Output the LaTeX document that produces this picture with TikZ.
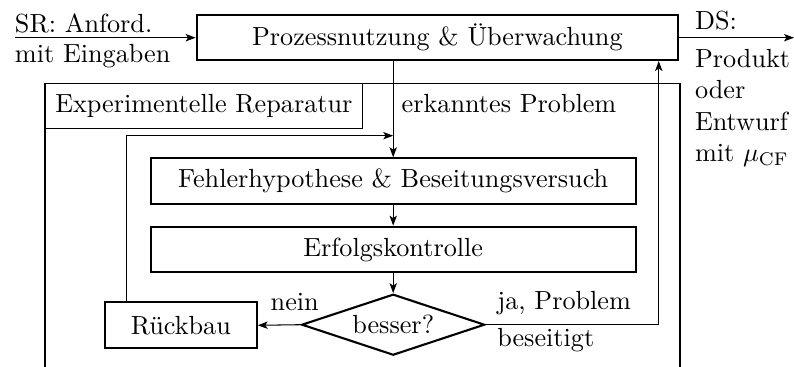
\documentclass[tikz,border=0pt]{standalone}
\usetikzlibrary{shapes.geometric,arrows.meta}
\begin{document}
\def\u{0.3817pt}
\begin{tikzpicture}[x=\u,y=-\u,
  box/.style={draw,thick,rectangle,inner sep=0pt},
  thinbox/.style={draw,rectangle,inner sep=0pt},
  lbl/.style={inner sep=0pt,outer sep=0pt},
  arr/.style={-{Stealth[length=3.8pt,width=2.8pt,inset=0.9pt]}}]
\useasboundingbox (0,0) rectangle (794,367);
% outer frame
\draw (45,367) -- (45,83.3) -- (680,83.3) -- (680,367);
\node[thinbox,minimum width=317.7*\u,minimum height=45*\u] (rep) at (203.85,105.8) {Experimentelle Reparatur};
% nodes
\node[box,minimum width=481.3*\u,minimum height=45*\u] (top) at (437.35,37.5) {Prozessnutzung \& Überwachung};
\node[box,minimum width=485*\u,minimum height=45.7*\u] (fehler) at (393.2,181.15) {Fehlerhypothese \& Beseitungsversuch};
\node[box,minimum width=485*\u,minimum height=45.6*\u] (erfolg) at (393.2,249.5) {Erfolgskontrolle};
\node[draw,thick,diamond,inner sep=0pt,minimum width=183*\u,minimum height=61*\u,shape aspect=3] (dia) at (393.2,324.7) {besser?};
\node[box,minimum width=151.7*\u,minimum height=46*\u] (rueck) at (180.85,325.3) {Rückbau};
% coordinates
\coordinate (srstart) at (15,37.7);
\coordinate (dsend) at (794,37.7);
\coordinate (loopend) at (393.2,135.7);
% labels
\node[lbl,anchor=base west] (sr) at (15,32.5) {SR: Anford.};
\node[lbl,anchor=base west] (ein) at (15,62.7) {mit Eingaben};
\node[lbl,anchor=base west] (ds) at (695,30) {DS:};
\node[lbl,anchor=north west,align=left] (prod) at (695,49) {Produkt\\oder\\Entwurf\\mit $\mu_{\mathrm{CF}}$};
\node[lbl,anchor=base west] (erk) at (401.7,113) {erkanntes Problem};
\node[lbl,anchor=base west] (nein) at (270.7,310) {nein};
\node[lbl,anchor=base west] (ja) at (497.3,309.3) {ja, Problem};
\node[lbl,anchor=base west] (bes) at (497.3,346.7) {beseitigt};
% connectors
\draw[arr] (srstart) -- (top.west |- srstart);
\draw[arr] (top.east |- dsend) -- (dsend);
\draw[arr] (fehler.north |- top.south) -- (fehler.north);
\draw[arr] ([xshift=22.7*\u]rueck.north west) |- (loopend);
\draw[arr] (fehler) -- (erfolg);
\draw[arr] (erfolg) -- (dia);
\draw[arr] (dia.west) -- (rueck.east);
\draw[arr] (dia.east) -| ([xshift=-20.3*\u]top.south east);
\end{tikzpicture}
\end{document}
